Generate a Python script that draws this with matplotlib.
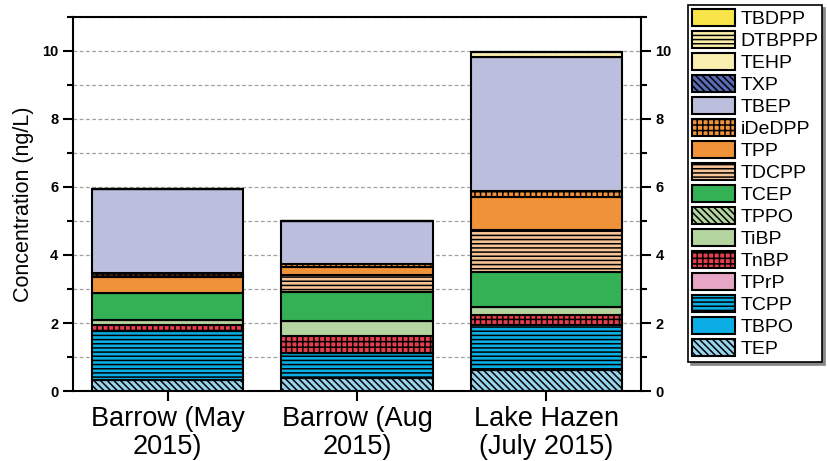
import matplotlib
matplotlib.use("Agg")
import matplotlib.pyplot as plt
from matplotlib.patches import Patch
from matplotlib.ticker import MultipleLocator

plt.rcParams['font.family'] = ['Liberation Sans', 'DejaVu Sans']
plt.rcParams['hatch.linewidth'] = 1.1

sites = ["Barrow (May\n2015)", "Barrow (Aug\n2015)", "Lake Hazen\n(July 2015)"]

# compounds listed from the bottom of each stack to the top
compounds = ["TEP", "TBPO", "TCPP", "TPrP", "TnBP", "TiBP", "TPPO", "TCEP",
             "TDCPP", "TPP", "iDeDPP", "TBEP", "TXP", "TEHP", "DTBPPP", "TBDPP"]

# concentrations (ng/L) per site, same order as compounds
barrow_may = [0.32, 0.0, 1.44, 0.0, 0.17, 0.15, 0.0, 0.81,
              0.0, 0.45, 0.13, 2.47, 0.0, 0.0, 0.0, 0.0]
barrow_aug = [0.37, 0.0, 0.76, 0.0, 0.50, 0.43, 0.0, 0.84,
              0.50, 0.25, 0.09, 1.25, 0.0, 0.0, 0.0, 0.0]
lake_hazen = [0.63, 0.0, 1.31, 0.0, 0.31, 0.23, 0.0, 1.01,
              1.24, 0.97, 0.19, 3.93, 0.0, 0.15, 0.0, 0.0]

fills = {
    "TEP": "#97d4ee", "TBPO": "#0aaee4", "TCPP": "#0aaee4", "TPrP": "#e8a6c6",
    "TnBP": "#e63e4e", "TiBP": "#b5d5a0", "TPPO": "#b5d5a0", "TCEP": "#35b155",
    "TDCPP": "#f6c496", "TPP": "#f0923a", "iDeDPP": "#f0923a", "TBEP": "#bcbedd",
    "TXP": "#5a6bb5", "TEHP": "#f8eeb0", "DTBPPP": "#fbf0a8", "TBDPP": "#f9e54a",
}
hatches = {
    "TEP": "\\\\\\\\\\", "TCPP": "----", "TnBP": "+++", "TPPO": "\\\\\\\\\\",
    "TDCPP": "----", "iDeDPP": "+++", "TXP": "\\\\\\\\\\", "DTBPPP": "----",
}

fig = plt.figure(figsize=(8.27, 4.61), dpi=100)
ax = fig.add_axes([73 / 827, 1 - 391 / 461, (641 - 73) / 827, (391 - 17) / 461])

data = [barrow_may, barrow_aug, lake_hazen]
x = list(range(len(sites)))
bottoms = [0.0] * len(sites)
for i, name in enumerate(compounds):
    vals = [d[i] for d in data]
    ax.bar(x, vals, 0.8, bottom=bottoms, color=fills[name], edgecolor="black",
           linewidth=1.5, hatch=hatches.get(name, None), zorder=3)
    bottoms = [b + v for b, v in zip(bottoms, vals)]

ax.set_xlim(-0.5, 2.5)
ax.set_ylim(0, 11)
ax.yaxis.set_major_locator(MultipleLocator(2))
ax.yaxis.set_minor_locator(MultipleLocator(1))
ax.set_yticks([0, 2, 4, 6, 8, 10])
ax.grid(axis="y", which="both", color="#a0a0a0", linestyle=(0, (3, 2)), linewidth=0.9, zorder=0)
ax.set_axisbelow(True)

ax.set_xticks(x)
ax.set_xticklabels(sites, fontsize=19.5, linespacing=1.1)
ax.tick_params(axis="x", direction="out", length=7, width=1.5, pad=4)
ax.tick_params(axis="y", which="major", direction="out", length=7, width=1.5,
               labelsize=10.5, left=True, right=True, labelleft=True, labelright=True)
ax.tick_params(axis="y", which="minor", direction="out", length=4, width=1.5,
               left=True, right=True)
for lab in ax.get_yticklabels():
    lab.set_fontweight("bold")
for sp in ax.spines.values():
    sp.set_linewidth(1.5)

ax.set_ylabel("Concentration (ng/L)", fontsize=15.5, labelpad=6)

handles = [Patch(facecolor=fills[n], edgecolor="black", linewidth=1.5,
                 hatch=hatches.get(n, None), label=n) for n in reversed(compounds)]
leg = fig.legend(handles=handles, loc="upper left",
                 bbox_to_anchor=(688 / 827, 1 - 5 / 461), fontsize=14,
                 frameon=True, fancybox=False, edgecolor="black",
                 handlelength=2.2, handleheight=1.0, handletextpad=0.3,
                 labelspacing=0.135, borderpad=0.2, borderaxespad=0,
                 shadow={"color": "#888888", "alpha": 1.0})
leg.get_frame().set_linewidth(1.2)

fig.savefig("out.png", dpi=100)
